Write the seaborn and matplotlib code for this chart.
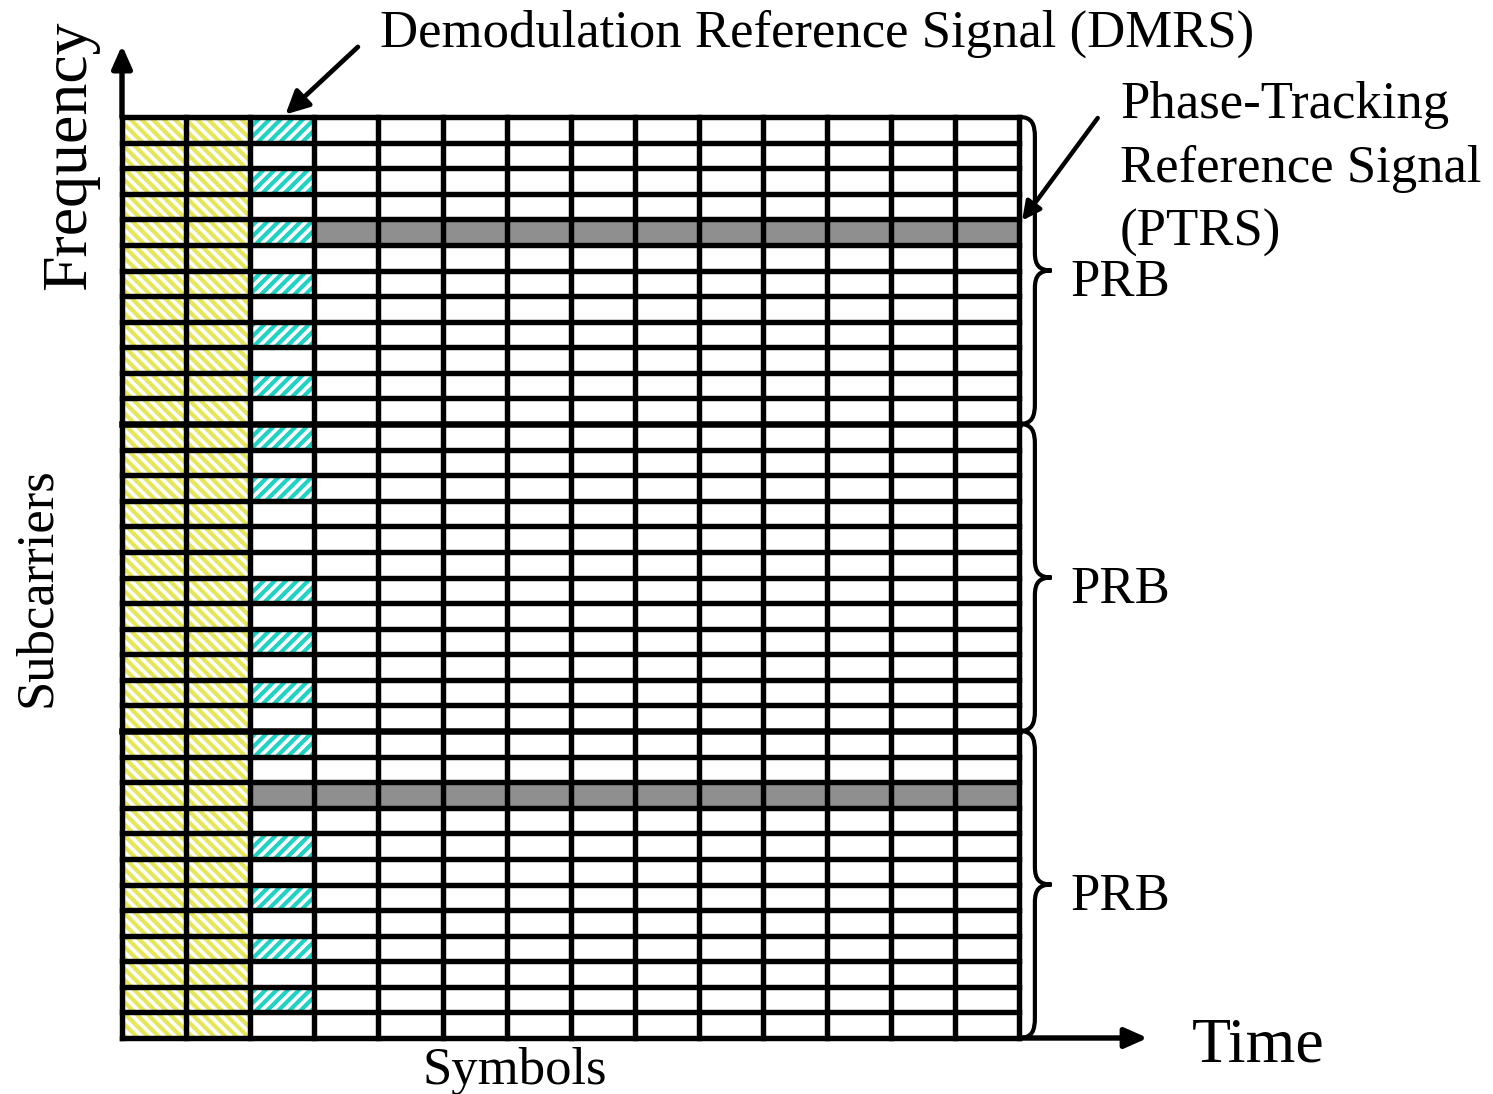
import numpy as np
import matplotlib
matplotlib.use('Agg')
import matplotlib.pyplot as plt
from matplotlib.colors import ListedColormap
from matplotlib.patches import Rectangle, PathPatch
from matplotlib.path import Path
import seaborn as sns

# resource grid: 3 PRBs x 12 subcarriers, 14 OFDM symbols
N_SYMBOLS = 14
N_SUBCARRIERS = 36
PRB_SIZE = 12
PRB_LABELS = ['PRB', 'PRB', 'PRB']

CONTROL_SYMBOLS = [0, 1]
DMRS_SYMBOL = 2
DMRS_SUBCARRIERS = [0, 2, 4, 6, 8, 10, 12, 14, 18, 20, 22, 24, 28, 30, 32, 34]
PTRS_SUBCARRIERS = [4, 26]
PTRS_FIRST_SYMBOL = [3, 2]

EMPTY, CONTROL, DMRS, PTRS = 0, 1, 2, 3

GREY = '#8f8f8f'
YELLOW = '#e6e65a'
CYAN = '#1ed2c4'

W, H, DPI = 1493, 1094, 200
LW = 1.95

grid = np.zeros((N_SUBCARRIERS, N_SYMBOLS), dtype=int)
grid[:, CONTROL_SYMBOLS] = CONTROL
grid[DMRS_SUBCARRIERS, DMRS_SYMBOL] = DMRS
for sc, s0 in zip(PTRS_SUBCARRIERS, PTRS_FIRST_SYMBOL):
    grid[sc, s0:] = PTRS

sns.set_style('white')
plt.rcParams['font.family'] = ['Liberation Serif', 'DejaVu Serif']
plt.rcParams['text.color'] = 'black'
plt.rcParams['hatch.linewidth'] = 1.5


def px(x, y):
    # pixel position in the 1493x1094 canvas -> figure fraction
    return x / W, 1 - y / H


fig = plt.figure(figsize=(W / DPI, H / DPI), dpi=DPI)
ax = fig.add_axes([122 / W, 1 - 1038 / H, (1019.5 - 122) / W, (1038 - 117) / H])

cmap = ListedColormap(['white', 'white', 'white', GREY])
sns.heatmap(grid, ax=ax, cmap=cmap, vmin=-0.5, vmax=3.5, cbar=False,
            linewidths=0, xticklabels=False, yticklabels=False)

# hatched cells: control region and DMRS
for (r, c), v in np.ndenumerate(grid):
    if v == CONTROL:
        ax.add_patch(Rectangle((c, r), 1, 1, facecolor='none', edgecolor=YELLOW,
                               hatch='\\' * 6, lw=0, zorder=2))
    elif v == DMRS:
        ax.add_patch(Rectangle((c, r), 1, 1, facecolor='none', edgecolor=CYAN,
                               hatch='/' * 6, lw=0, zorder=2))

# grid lines
row_lw = [LW + 0.4 if (i % PRB_SIZE == 0 and 0 < i < N_SUBCARRIERS) else LW
          for i in range(N_SUBCARRIERS + 1)]
ax.hlines(np.arange(N_SUBCARRIERS + 1), 0, N_SYMBOLS, colors='black',
          linewidths=row_lw, zorder=3, clip_on=False, capstyle='projecting')
ax.vlines(np.arange(N_SYMBOLS + 1), 0, N_SUBCARRIERS, colors='black',
          linewidths=LW, zorder=3, clip_on=False, capstyle='projecting')

# frequency / time axes
axis_arrow = dict(arrowstyle='-|>,head_length=0.45,head_width=0.2', lw=LW,
                  color='black', mutation_scale=15, shrinkA=0, shrinkB=0)
ax.annotate('', xy=(0, -2.8), xytext=(0, 0), arrowprops=axis_arrow,
            annotation_clip=False)
ax.annotate('', xy=(16.0, N_SUBCARRIERS), xytext=(N_SYMBOLS, N_SUBCARRIERS),
            arrowprops=axis_arrow, annotation_clip=False)

# pointers to DMRS and PTRS
ax.annotate('', xy=(2.55, -0.1), xytext=(3.68, -2.74), annotation_clip=False,
            arrowprops=dict(arrowstyle='-|>,head_length=0.5,head_width=0.25',
                            lw=1.7, color='black', mutation_scale=14,
                            shrinkA=0, shrinkB=0))
ax.annotate('', xy=(14.04, PTRS_SUBCARRIERS[0] + 0.05), xytext=(15.22, 0.04),
            annotation_clip=False,
            arrowprops=dict(arrowstyle='-|>,head_length=0.5,head_width=0.25',
                            lw=1.6, color='black', mutation_scale=11,
                            shrinkA=0, shrinkB=0))

# PRB braces
for k, label in enumerate(PRB_LABELS):
    y0 = k * PRB_SIZE
    y1 = y0 + PRB_SIZE
    ym = (y0 + y1) / 2
    x0, xv, xt = N_SYMBOLS, N_SYMBOLS + 0.24, N_SYMBOLS + 0.5
    verts = [
        (x0, y0), (x0 + 0.2, y0), (xv, y0 + 0.3), (xv, y0 + 0.8),
        (xv, ym - 0.7),
        (xv, ym - 0.2), (xv + 0.07, ym), (xt, ym),
        (xv + 0.07, ym), (xv, ym + 0.2), (xv, ym + 0.7),
        (xv, y1 - 0.8),
        (xv, y1 - 0.3), (x0 + 0.2, y1), (x0, y1),
    ]
    codes = [Path.MOVETO, Path.CURVE4, Path.CURVE4, Path.CURVE4,
             Path.LINETO,
             Path.CURVE4, Path.CURVE4, Path.CURVE4,
             Path.CURVE4, Path.CURVE4, Path.CURVE4,
             Path.LINETO,
             Path.CURVE4, Path.CURVE4, Path.CURVE4]
    ax.add_patch(PathPatch(Path(verts, codes), facecolor='none', edgecolor='black',
                           lw=1.5, clip_on=False, zorder=4))
    ax.text(N_SYMBOLS + 0.79, ym + 1.0, label, fontsize=19, ha='left',
            va='baseline')

# labels
fig.text(*px(380, 47), 'Demodulation Reference Signal (DMRS)', fontsize=19,
         ha='left', va='baseline')
for i, line in enumerate(['Phase-Tracking', 'Reference Signal', '(PTRS)']):
    fig.text(*px(1120, 118 + 64 * i), line, fontsize=19, ha='left', va='baseline')
fig.text(*px(1192, 1062), 'Time', fontsize=23, ha='left', va='baseline')
fig.text(*px(85, 290), 'Frequency', fontsize=23, rotation=90,
         rotation_mode='anchor', ha='left', va='baseline')
fig.text(*px(50, 587), 'Subcarriers', fontsize=19, rotation=90,
         rotation_mode='anchor', ha='center', va='baseline')
fig.text(*px(515, 1084), 'Symbols', fontsize=19, ha='center', va='baseline')

fig.savefig('out.png', dpi=DPI, facecolor='white')
